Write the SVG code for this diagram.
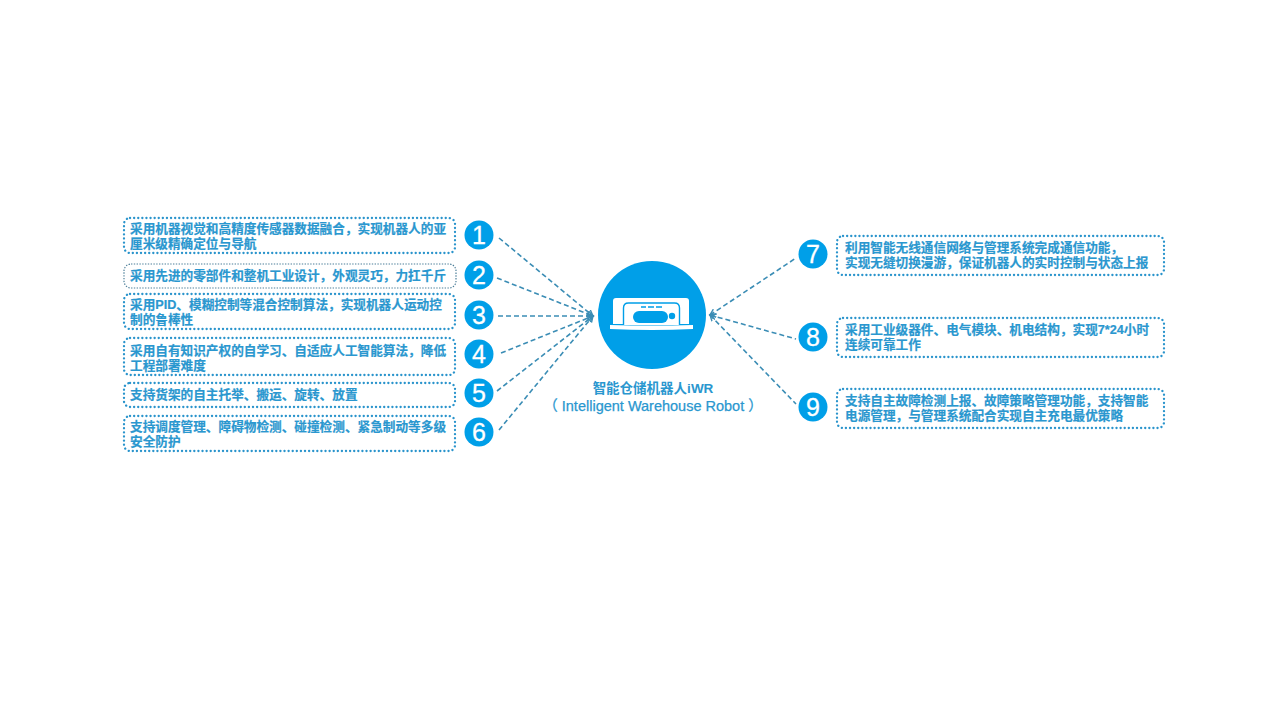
<svg xmlns="http://www.w3.org/2000/svg" width="1280" height="720" viewBox="0 0 1280 720">
<style>
text{font-family:"Liberation Sans","Noto Sans CJK SC",sans-serif}
.box{fill:#fff;stroke:#2a94cc;stroke-width:2.3;stroke-dasharray:0.1 4;stroke-linecap:round}
.thin{stroke-width:1.2;stroke-dasharray:1.4 1.4;stroke-linecap:butt;stroke:#4d7f99}
.t{font-size:12.65px;font-weight:700;fill:#2a97cf;stroke:#2a97cf;stroke-width:.2}
.b{fill:#009fe8}
.n{font-size:25px;fill:#fff;text-anchor:middle;stroke:#fff;stroke-width:.3}
.c{stroke:#3b8db5;stroke-width:1.6;stroke-dasharray:5 3;fill:none;marker-end:url(#a)}
.c2{stroke:#3b8db5;stroke-width:1.6;stroke-dasharray:5 3;fill:none;marker-start:url(#s)}
.l{fill:#2a97cf;text-anchor:middle}
</style>
<defs>
<marker id="a" markerWidth="8" markerHeight="8" refX="6" refY="4" orient="auto" markerUnits="userSpaceOnUse"><path d="M0 1L6 4L0 7" fill="none" stroke="#3b8db5" stroke-width="1.4"/></marker>
<marker id="s" markerWidth="8" markerHeight="8" refX="2" refY="4" orient="auto" markerUnits="userSpaceOnUse"><path d="M8 1L2 4L8 7" fill="none" stroke="#3b8db5" stroke-width="1.4"/></marker>
</defs>
<rect width="1280" height="720" fill="#fff"/>
<g id="connectors">
<path class="c" d="M499 238L593 316"/>
<path class="c" d="M497 278L593 316"/>
<path class="c" d="M498 316L593 316"/>
<path class="c" d="M501 353L593 316"/>
<path class="c" d="M497 391L593 316"/>
<path class="c" d="M499 430L593 316"/>
<path class="c2" d="M710 315L796 258"/>
<path class="c2" d="M710 315L796 339"/>
<path class="c2" d="M710 315L796 404"/>
</g>
<g id="center">
<circle cx="652" cy="315" r="54" class="b"/>
<path d="M616 298h70q3 0 3 3v23h-76v-23q0-3 3-3z" fill="#fff"/>
<path d="M610 325q41 1 83 0v4q-41 2-83 0z" fill="#fff"/>
<path d="M623.500 325v-17q0-5 5-5h46q5 0 5 5v17" fill="#fff" stroke="#009fe8" stroke-width="1.4"/>
<path d="M641 307h5M648 307h6M656 307h6" stroke="#009fe8" stroke-width="1.5"/>
<rect x="633" y="311" width="35" height="12" rx="6" class="b"/>
<circle cx="672" cy="316" r="3.2" class="b"/>
<text class="l" x="653" y="393" font-size="13.500" font-weight="700">智能仓储机器人iWR</text>
<text class="l" x="653" y="411" font-size="14.500" stroke="#2a97cf" stroke-width=".25">（ Intelligent Warehouse Robot ）</text>
</g>
<g id="n1"><rect class="box" x="124" y="218" width="331" height="35" rx="6"/><text class="t" x="130" y="233">采用机器视觉和高精度传感器数据融合，实现机器人的亚</text><text class="t" x="130" y="247.500">厘米级精确定位与导航</text><circle cx="479" cy="235" r="14.5" class="b"/><text class="n" x="479" y="244">1</text></g>
<g id="n2"><rect class="box thin" x="124" y="264" width="332" height="24" rx="7"/><text class="t" x="130" y="279.500">采用先进的零部件和整机工业设计，外观灵巧，力扛千斤</text><circle cx="479" cy="275" r="14.5" class="b"/><text class="n" x="479" y="284">2</text></g>
<g id="n3"><rect class="box" x="124" y="294" width="331" height="35" rx="6"/><text class="t" x="130" y="309">采用PID、模糊控制等混合控制算法，实现机器人运动控</text><text class="t" x="130" y="323.500">制的鲁棒性</text><circle cx="479" cy="315" r="14.5" class="b"/><text class="n" x="479" y="324">3</text></g>
<g id="n4"><rect class="box" x="124" y="338" width="331" height="37" rx="6"/><text class="t" x="130" y="354.500">采用自有知识产权的自学习、自适应人工智能算法，降低</text><text class="t" x="130" y="369.500">工程部署难度</text><circle cx="479" cy="354" r="14.5" class="b"/><text class="n" x="479" y="363">4</text></g>
<g id="n5"><rect class="box" x="124" y="383" width="331" height="24" rx="6"/><text class="t" x="130" y="398.500">支持货架的自主托举、搬运、旋转、放置</text><circle cx="479" cy="393" r="14.5" class="b"/><text class="n" x="479" y="402">5</text></g>
<g id="n6"><rect class="box" x="124" y="416" width="331" height="35" rx="6"/><text class="t" x="130" y="430.500">支持调度管理、障碍物检测、碰撞检测、紧急制动等多级</text><text class="t" x="130" y="445.500">安全防护</text><circle cx="479" cy="432" r="14.5" class="b"/><text class="n" x="479" y="441">6</text></g>
<g id="n7"><rect class="box" x="837" y="236" width="327" height="39" rx="6"/><text class="t" x="845" y="252">利用智能无线通信网络与管理系统完成通信功能，</text><text class="t" x="845" y="267">实现无缝切换漫游，保证机器人的实时控制与状态上报</text><circle cx="813" cy="254" r="14.5" class="b"/><text class="n" x="813" y="263">7</text></g>
<g id="n8"><rect class="box" x="837" y="318" width="327" height="39" rx="6"/><text class="t" x="845" y="334">采用工业级器件、电气模块、机电结构，实现7*24小时</text><text class="t" x="845" y="349">连续可靠工作</text><circle cx="813" cy="337" r="14.5" class="b"/><text class="n" x="813" y="346">8</text></g>
<g id="n9"><rect class="box" x="837" y="389" width="327" height="39" rx="6"/><text class="t" x="845" y="405">支持自主故障检测上报、故障策略管理功能，支持智能</text><text class="t" x="845" y="420">电源管理，与管理系统配合实现自主充电最优策略</text><circle cx="813" cy="407" r="14.5" class="b"/><text class="n" x="813" y="416">9</text></g>
</svg>
